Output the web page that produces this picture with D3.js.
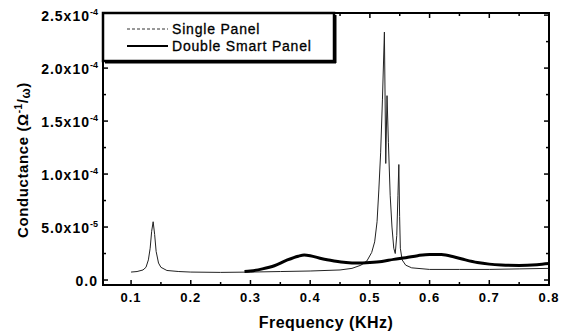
<!DOCTYPE html>
<html>
<head>
<meta charset="utf-8">
<script src="https://d3js.org/d3.v7.min.js"></script>
<style>
  body { margin: 0; background: #fff; }
  text { font-family: "Liberation Sans", Arial, sans-serif; fill: #000; }
</style>
</head>
<body>
<div id="chart"></div>
<script>
// Single Panel: frequency (KHz) and conductance (x1e-5)
var singleFreq = [0.100, 0.110, 0.120, 0.125, 0.129, 0.132, 0.1345, 0.137, 0.1395, 0.142, 0.146, 0.150, 0.160, 0.180,
  0.200, 0.250, 0.300, 0.350, 0.400, 0.450, 0.470, 0.485, 0.495, 0.503, 0.508, 0.512, 0.515, 0.518, 0.521,
  0.5243, 0.5266, 0.5287, 0.531, 0.534, 0.537, 0.540, 0.5425, 0.545, 0.547, 0.5485, 0.5498, 0.551,
  0.554, 0.560, 0.570, 0.600, 0.650, 0.700, 0.750, 0.800];
var singleG = [0.75, 0.8, 0.95, 1.2, 1.9, 3.0, 4.6, 5.5, 4.3, 2.7, 1.6, 1.2, 0.9, 0.8,
  0.75, 0.72, 0.75, 0.8, 0.85, 0.95, 1.1, 1.4, 1.8, 2.6, 3.6, 5.5, 8.5, 12, 17,
  23.4, 11, 17.4, 13, 8, 5, 3, 2.5, 4.2, 8, 10.9, 6, 3,
  1.9, 1.4, 1.15, 1.0, 1.0, 1.0, 1.05, 1.1];

// Double Smart Panel
var doubleFreq = [0.29, 0.30, 0.32, 0.34, 0.36, 0.38, 0.39, 0.40, 0.42, 0.44, 0.46, 0.48, 0.50, 0.52, 0.54,
  0.56, 0.58, 0.60, 0.62, 0.64, 0.66, 0.68, 0.70, 0.72, 0.75, 0.78, 0.80];
var doubleG = [0.8, 0.85, 1.05, 1.35, 1.85, 2.25, 2.36, 2.3, 2.0, 1.8, 1.65, 1.6, 1.65, 1.75, 1.95,
  2.1, 2.3, 2.42, 2.4, 2.2, 1.9, 1.65, 1.5, 1.42, 1.38, 1.45, 1.55];

var xTicks = [0.1, 0.2, 0.3, 0.4, 0.5, 0.6, 0.7, 0.8];
var yTicks = [0, 5e-5, 1e-4, 1.5e-4, 2e-4, 2.5e-4];
var yTickMant = ["0.0", "5.0x10", "1.0x10", "1.5x10", "2.0x10", "2.5x10"];
var yTickExp = ["", "-5", "-4", "-4", "-4", "-4"];
var seriesNames = ["Single Panel", "Double Smart Panel"];

(function () {
  var W = 567, H = 336;
  var pL = 103, pR = 549, pT = 13, pB = 285;

  var svg = d3.select("#chart").append("svg").attr("width", W).attr("height", H);

  var x = d3.scaleLinear().domain([0.053, 0.8]).range([pL, pR]);
  var y = d3.scaleLinear().domain([-0.47e-5, 2.52e-4]).range([pB, pT]);

  var singleData = singleFreq.map(function (f, i) { return [f, singleG[i] * 1e-5]; });
  var doubleData = doubleFreq.map(function (f, i) { return [f, doubleG[i] * 1e-5]; });

  var line = d3.line().x(function (d) { return x(d[0]); }).y(function (d) { return y(d[1]); });

  // minor ticks
  var xMinor = [0.15, 0.25, 0.35, 0.45, 0.55, 0.65, 0.75];
  var yMinor = [2.5e-5, 7.5e-5, 1.25e-4, 1.75e-4, 2.25e-4];

  var g = svg.append("g");
  function tick(x1, y1, x2, y2) {
    g.append("line").attr("x1", x1).attr("x2", x2).attr("y1", y1).attr("y2", y2)
      .attr("stroke", "#000").attr("stroke-width", 1.5);
  }
  xTicks.forEach(function (v) { tick(x(v), pB, x(v), pB - 5); tick(x(v), pT, x(v), pT + 5); });
  xMinor.forEach(function (v) { tick(x(v), pB, x(v), pB - 3); tick(x(v), pT, x(v), pT + 3); });
  yTicks.forEach(function (v) { tick(pL, y(v), pL + 5, y(v)); tick(pR, y(v), pR - 5, y(v)); });
  yMinor.forEach(function (v) { tick(pL, y(v), pL + 3, y(v)); tick(pR, y(v), pR - 3, y(v)); });

  // curves
  svg.append("path").datum(singleData).attr("d", line).attr("fill", "none").attr("stroke", "#222").attr("stroke-width", 1);
  svg.append("path").datum(doubleData).attr("d", line.curve(d3.curveMonotoneX)).attr("fill", "none").attr("stroke", "#000").attr("stroke-width", 3);

  // frame
  svg.append("rect").attr("x", pL).attr("y", pT).attr("width", pR - pL).attr("height", pB - pT)
    .attr("fill", "none").attr("stroke", "#000").attr("stroke-width", 2);

  // tick labels
  xTicks.forEach(function (v) {
    svg.append("text").attr("x", x(v)).attr("y", 302).attr("text-anchor", "middle")
      .style("font-size", "13px").style("font-weight", "bold").style("letter-spacing", "1px")
      .text(v.toFixed(1));
  });
  yTicks.forEach(function (v, i) {
    var t = svg.append("text").attr("x", 98).attr("y", y(v) + 6).attr("text-anchor", "end")
      .style("font-size", "14px").style("font-weight", "bold");
    t.append("tspan").style("letter-spacing", "1px").text(yTickMant[i]);
    if (yTickExp[i]) {
      t.append("tspan").attr("dy", -6).style("font-size", "9px").text(yTickExp[i]);
    }
  });

  // axis titles
  svg.append("text").attr("x", (pL + pR) / 2).attr("y", 328).attr("text-anchor", "middle")
    .style("font-size", "16px").style("font-weight", "bold").style("letter-spacing", "0.5px")
    .text("Frequency (KHz)");

  var yt = svg.append("text").attr("transform", "translate(28,160) rotate(-90)").attr("text-anchor", "middle")
    .style("font-size", "15px").style("font-weight", "bold").style("letter-spacing", "0.6px");
  yt.append("tspan").text("Conductance (\u03A9");
  yt.append("tspan").attr("dy", -6).style("font-size", "10px").text("-1");
  yt.append("tspan").attr("dy", 6).text("/");
  yt.append("tspan").attr("dy", 2).style("font-size", "12px").text("\u03C9");
  yt.append("tspan").attr("dy", -2).text(")");

  // legend
  var lg = svg.append("g");
  lg.append("rect").attr("x", pL).attr("y", pT).attr("width", 231).attr("height", 48)
    .attr("fill", "#fff").attr("stroke", "#000").attr("stroke-width", 2.5);
  lg.append("line").attr("x1", 105).attr("x2", 336).attr("y1", 62).attr("y2", 62).attr("stroke", "#000").attr("stroke-width", 3);
  lg.append("line").attr("x1", 335).attr("x2", 335).attr("y1", 15).attr("y2", 63).attr("stroke", "#000").attr("stroke-width", 3);

  lg.append("line").attr("x1", 127).attr("x2", 168).attr("y1", 29).attr("y2", 29)
    .attr("stroke", "#333").attr("stroke-width", 1).attr("stroke-dasharray", "3,2");
  lg.append("line").attr("x1", 127).attr("x2", 168).attr("y1", 46).attr("y2", 46)
    .attr("stroke", "#000").attr("stroke-width", 2);
  [0, 1].forEach(function (i) {
    lg.append("text").attr("x", 172).attr("y", 34 + 17 * i)
      .style("font-size", "14px").style("letter-spacing", "0.8px")
      .attr("stroke", "#000").attr("stroke-width", 0.3)
      .text(seriesNames[i]);
  });
})();
</script>
</body>
</html>
